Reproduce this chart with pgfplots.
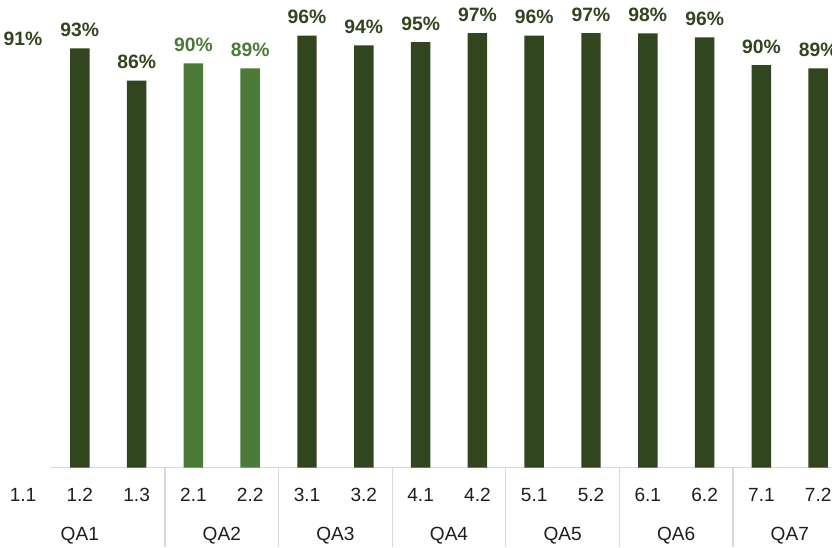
\documentclass[border=0pt]{standalone}
\usepackage{pgfplots}
\pgfplotsset{compat=1.18}
\usepackage{fontspec}
\setmainfont{Liberation Sans}
\definecolor{dkgreen}{HTML}{31451E}
\definecolor{ltgreen}{HTML}{4B7A39}
\definecolor{sepgray}{HTML}{D9D9D9}
\definecolor{txt}{HTML}{1E1E1E}
\begin{document}
\begin{tikzpicture}
\begin{axis}[
  at={(0pt,59.625pt)}, anchor=south west,
  width=624pt, height=350.6pt, scale only axis,
  xmin=-0.405, xmax=14.243, ymin=0, ymax=104.12,
  clip=false,
  axis line style={draw=none},
  major tick length=0pt,
  ytick=\empty,
  xtick={0,...,14},
  xticklabels={1.1,1.2,1.3,2.1,2.2,3.1,3.2,4.1,4.2,5.1,5.2,6.1,6.2,7.1,7.2},
  xticklabel style={anchor=base, yshift=-25.5pt, font=\fontsize{14.3}{16}\selectfont, text=txt},
  ybar, bar width=0.343,
  point meta=explicit symbolic,
  nodes near coords,
  every node near coord/.append style={anchor=base, yshift=9pt, inner sep=0pt, font=\bfseries\fontsize{14.5}{16}\selectfont},
]
\draw[sepgray, line width=0.9pt] (axis cs:0.5,0) -- (axis cs:14.243,0);
\pgfplotsinvokeforeach{2.5,4.5,6.5,8.5,10.5,12.5}{
  \draw[sepgray, line width=0.9pt] (axis cs:#1,0) -- ([yshift=-59.6pt]axis cs:#1,0);
}
\addplot[bar shift=0pt, fill=none, draw=none, every node near coord/.append style={text=dkgreen}]
  coordinates {(0,91.3) [91\%]};
\addplot[bar shift=0pt, fill=dkgreen, draw=none, every node near coord/.append style={text=dkgreen}]
  coordinates {
  (1,93.36) [93\%]
  (2,86.15) [86\%]
  (5,96.17) [96\%]
  (6,94.03) [94\%]
  (7,94.77) [95\%]
  (8,96.77) [97\%]
  (9,96.17) [96\%]
  (10,96.77) [97\%]
  (11,96.70) [98\%]
  (12,95.81) [96\%]
  (13,89.64) [90\%]
  (14,88.91) [89\%]
  };
\addplot[bar shift=0pt, fill=ltgreen, draw=none, every node near coord/.append style={text=ltgreen}]
  coordinates {
  (3,90.02) [90\%]
  (4,88.91) [89\%]
  };
\node[anchor=base, yshift=-54.4pt, font=\fontsize{14.3}{16}\selectfont, text=txt] at (axis cs:1,0) {QA1};
\node[anchor=base, yshift=-54.4pt, font=\fontsize{14.3}{16}\selectfont, text=txt] at (axis cs:3.5,0) {QA2};
\node[anchor=base, yshift=-54.4pt, font=\fontsize{14.3}{16}\selectfont, text=txt] at (axis cs:5.5,0) {QA3};
\node[anchor=base, yshift=-54.4pt, font=\fontsize{14.3}{16}\selectfont, text=txt] at (axis cs:7.5,0) {QA4};
\node[anchor=base, yshift=-54.4pt, font=\fontsize{14.3}{16}\selectfont, text=txt] at (axis cs:9.5,0) {QA5};
\node[anchor=base, yshift=-54.4pt, font=\fontsize{14.3}{16}\selectfont, text=txt] at (axis cs:11.5,0) {QA6};
\node[anchor=base, yshift=-54.4pt, font=\fontsize{14.3}{16}\selectfont, text=txt] at (axis cs:13.5,0) {QA7};
\end{axis}
\pgfresetboundingbox
\path[use as bounding box] (0,0) rectangle (624pt,410.25pt);
\end{tikzpicture}
\end{document}
